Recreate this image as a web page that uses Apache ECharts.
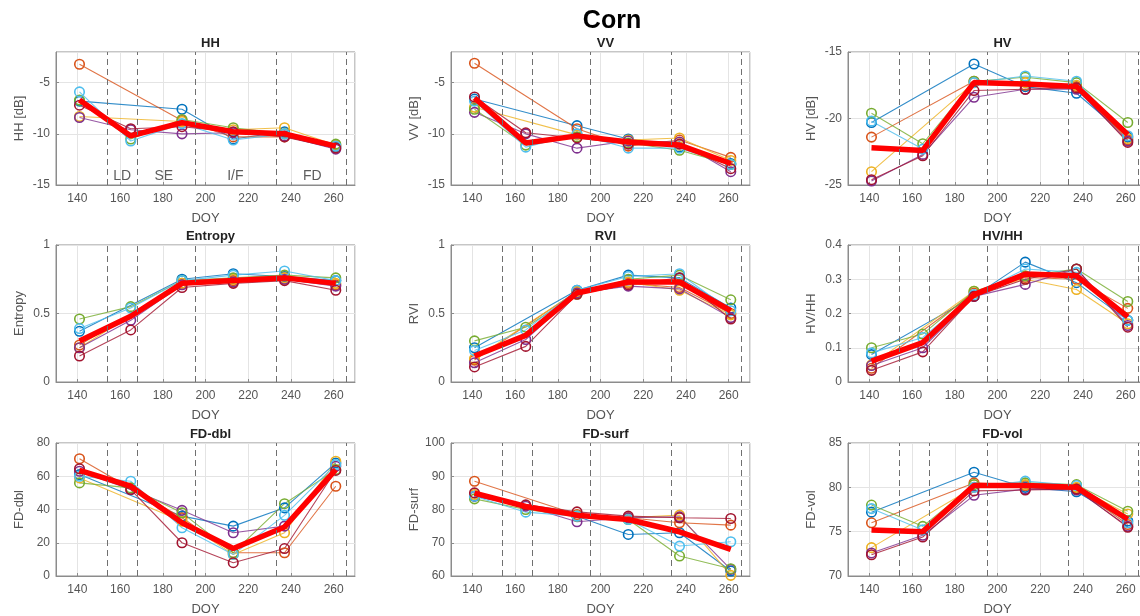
<!DOCTYPE html>
<html><head><meta charset="utf-8">
<script src="https://cdn.jsdelivr.net/npm/echarts@6/dist/echarts.min.js"></script>
<style>html,body{margin:0;padding:0;background:#fff}#c{width:1140px;height:616px}</style>
</head><body><div id="c"></div>
<script>
// ---- data ----
const doy = [141, 165, 189, 213, 237, 261];
const seriesColors = ['#0072BD', '#D95319', '#EDB120', '#7E2F8E', '#77AC30', '#4DBEEE', '#A2142F'];
const meanColor = '#FF0000';
const phaseLines = [154, 168, 195, 233, 266];
const phaseNames = ['LD', 'SE', 'I/F', 'FD'];
const phaseNameDoy = [161, 180.5, 214, 250];
const phaseNameValue = -14.1;

const mainTitle = 'Corn';
const panelTitles = ['HH', 'VV', 'HV', 'Entropy', 'RVI', 'HV/HH', 'FD-dbl', 'FD-surf', 'FD-vol'];
const yNames = ['HH [dB]', 'VV [dB]', 'HV [dB]', 'Entropy', 'RVI', 'HV/HH', 'FD-dbl', 'FD-surf', 'FD-vol'];
const xName = 'DOY';
const yMin = [-15, -15, -25, 0, 0, 0, 0, 60, 70];
const yMax = [-2, -2, -15, 1, 1, 0.4, 80, 100, 85];
const yStep = [5, 5, 5, 0.5, 0.5, 0.1, 20, 10, 5];

// rows: blue, orange, yellow, purple, green, light blue, dark red (null = no acquisition)
const HH = [
  [-6.8, null, -7.6, -10.5, -9.8, -11.3],
  [-3.2, null, -8.7, -10.3, -10.3, -11.2],
  [-8.3, null, -8.8, -9.6, -9.4, -11.1],
  [-8.4, -9.6, -10.0, -9.9, -10.2, -11.5],
  [-6.7, -10.5, -8.6, -9.4, -10.0, -11.0],
  [-5.9, -10.7, -9.0, -10.6, -10.0, -11.2],
  [-7.2, -9.5, -9.3, -9.8, -10.3, -11.4]
];
const HH_mean = [-6.7, -10.2, -8.9, -9.8, -10.0, -11.2];

const VV = [
  [-6.6, null, -9.2, -10.5, -11.3, -12.9],
  [-3.1, null, -9.5, -11.2, -10.6, -12.3],
  [-7.4, null, -10.1, -10.6, -10.4, -12.6],
  [-7.9, -10.0, -11.4, -10.7, -10.8, -13.7],
  [-7.6, -11.1, -10.3, -10.9, -11.6, -13.0],
  [-6.8, -11.3, -10.0, -11.4, -11.4, -13.0],
  [-6.4, -9.9, -10.4, -11.0, -11.0, -13.4]
];
const VV_mean = [-6.5, -10.9, -10.2, -10.8, -11.1, -12.9];

const HV = [
  [-20.3, null, -15.9, -17.6, -18.1, -21.4],
  [-21.4, null, -17.2, -17.5, -17.6, -21.6],
  [-24.0, null, -17.3, -17.3, -17.5, -21.5],
  [-24.7, -22.7, -18.4, -17.8, -17.8, -21.7],
  [-19.6, -21.9, -17.2, -16.9, -17.3, -20.3],
  [-20.2, -22.3, -17.3, -16.8, -17.2, -21.3],
  [-24.6, -22.8, -17.9, -17.8, -17.7, -21.8]
];
const HV_mean = [-22.2, -22.4, -17.3, -17.4, -17.6, -21.2];

const ENT = [
  [0.37, null, 0.75, 0.79, 0.77, 0.74],
  [0.27, null, 0.72, 0.74, 0.76, 0.71],
  [0.25, null, 0.72, 0.75, 0.76, 0.72],
  [0.25, 0.45, 0.71, 0.73, 0.75, 0.70],
  [0.46, 0.55, 0.74, 0.76, 0.78, 0.76],
  [0.39, 0.54, 0.74, 0.78, 0.81, 0.74],
  [0.19, 0.38, 0.69, 0.72, 0.74, 0.67]
];
const ENT_mean = [0.30, 0.48, 0.72, 0.74, 0.76, 0.72];

const RVI = [
  [0.25, null, 0.67, 0.78, 0.76, 0.54],
  [0.16, null, 0.66, 0.72, 0.69, 0.50],
  [0.17, null, 0.66, 0.73, 0.67, 0.49],
  [0.14, 0.31, 0.65, 0.70, 0.68, 0.47],
  [0.30, 0.40, 0.64, 0.75, 0.78, 0.60],
  [0.23, 0.38, 0.67, 0.77, 0.79, 0.52],
  [0.11, 0.26, 0.64, 0.71, 0.76, 0.46]
];
const RVI_mean = [0.19, 0.34, 0.65, 0.73, 0.73, 0.52];

const HVHH = [
  [0.080, null, 0.250, 0.350, 0.290, 0.180],
  [0.040, null, 0.260, 0.305, 0.300, 0.215],
  [0.050, null, 0.265, 0.300, 0.270, 0.170],
  [0.048, 0.100, 0.250, 0.285, 0.330, 0.165],
  [0.100, 0.140, 0.265, 0.310, 0.330, 0.235],
  [0.085, 0.130, 0.255, 0.330, 0.320, 0.180],
  [0.034, 0.088, 0.250, 0.300, 0.330, 0.160]
];
const HVHH_mean = [0.061, 0.115, 0.255, 0.315, 0.310, 0.190];

const FDDBL = [
  [61, null, 36, 30, 41, 68],
  [70.5, null, 35, 14, 14, 54],
  [59, null, 33, 13, 26, 69],
  [63, 52, 39.5, 26, 30, 66],
  [56, 53, 38, 14, 43.5, 64],
  [60, 57, 29, 13, 36.5, 67],
  [64.5, 52, 20, 8, 16.5, 63.5]
];
const FDDBL_mean = [63.5, 54, 32, 16.5, 29.5, 64];

const FDSURF = [
  [84, null, 78, 72.5, 73, 61.5],
  [88.5, null, 78.5, 77.5, 76, 75.3],
  [84.5, null, 78, 77.5, 78.3, 60.2],
  [84, 81, 76.3, 77.5, 77.8, 62],
  [83.2, 80, 78, 77, 66, 62.2],
  [84, 79.2, 78, 77, 69, 70.3],
  [85, 81.4, 79.3, 78, 77.5, 77.3]
];
const FDSURF_mean = [84.9, 80.9, 78.3, 77, 73.3, 68];

const FDVOL = [
  [77.2, null, 81.7, 80.0, 79.5, 76.2],
  [76.0, null, 80.5, 80.2, 79.9, 75.8],
  [73.2, null, 80.0, 80.3, 80.0, 77.0],
  [72.6, 74.6, 79.1, 79.8, 79.7, 75.6],
  [78.0, 75.6, 80.3, 80.5, 80.3, 77.3],
  [77.6, 75.2, 80.0, 80.7, 80.2, 76.0],
  [72.4, 74.4, 79.6, 79.7, 79.8, 75.5]
];
const FDVOL_mean = [75.2, 75.0, 80.2, 80.2, 80.0, 76.4];

const panelRows = [HH, VV, HV, ENT, RVI, HVHH, FDDBL, FDSURF, FDVOL];
const panelMeans = [HH_mean, VV_mean, HV_mean, ENT_mean, RVI_mean, HVHH_mean, FDDBL_mean, FDSURF_mean, FDVOL_mean];

// ---- layout ----
const colLeft = [56, 451, 848];
const colWidth = 299;
const rowTop = [52, 245, 443];
const rowHeight = [133, 137, 133];
const FONT = '"Liberation Sans", Arial, Helvetica, sans-serif';

const grids = [], xAxes = [], yAxes = [], series = [];
const titles = [{
  text: mainTitle, left: 607, top: 4, textAlign: 'center',
  textStyle: { fontFamily: FONT, fontSize: 25, fontWeight: 'bold', color: '#000' }
}];

for (let i = 0; i < 9; i++) {
  const r = Math.floor(i / 3), c = i % 3;
  grids.push({
    left: colLeft[c], top: rowTop[r], width: colWidth, height: rowHeight[r],
    show: true, borderColor: '#8c8c8c', borderWidth: 1, backgroundColor: '#fff',
    containLabel: false, outerBoundsMode: 'none'
  });
  titles.push({
    text: panelTitles[i], left: colLeft[c] + colWidth / 2, top: rowTop[r] - 20, textAlign: 'center',
    textStyle: { fontFamily: FONT, fontSize: 13, fontWeight: 'bold', color: '#222' }
  });
  xAxes.push({
    type: 'value', gridIndex: i, min: 130, max: 270, splitNumber: 7,
    name: xName, nameLocation: 'middle', nameGap: 27,
    nameTextStyle: { fontFamily: FONT, fontSize: 13, color: '#555' },
    axisLine: { show: true, lineStyle: { color: '#8c8c8c' } },
    axisTick: { show: true, inside: true, length: 3, lineStyle: { color: '#8c8c8c' } },
    axisLabel: { fontFamily: FONT, fontSize: 12, color: '#555', margin: 8, showMinLabel: false, showMaxLabel: false },
    splitLine: { show: true, lineStyle: { color: '#e4e4e4', width: 1 } }
  });
  yAxes.push({
    type: 'value', gridIndex: i, min: yMin[i], max: yMax[i], interval: yStep[i],
    name: yNames[i], nameLocation: 'middle', nameGap: 30,
    nameTextStyle: { fontFamily: FONT, fontSize: 13, color: '#555' },
    axisLine: { show: true, lineStyle: { color: '#8c8c8c' } },
    axisTick: { show: true, inside: true, length: 3, lineStyle: { color: '#8c8c8c' } },
    axisLabel: { fontFamily: FONT, fontSize: 12, color: '#555', margin: 6, showMaxLabel: (yMax[i] / yStep[i]) % 1 === 0 ? true : false },
    splitLine: { show: true, lineStyle: { color: '#e4e4e4', width: 1 } }
  });
  const rows = panelRows[i];
  rows.forEach((row, k) => {
    const col = seriesColors[k];
    const s = {
      type: 'line', xAxisIndex: i, yAxisIndex: i,
      data: doy.map((d, j) => [d, row[j]]).filter(p => p[1] !== null),
      symbol: 'circle', symbolSize: 9.5, showSymbol: true,
      lineStyle: { color: col, width: 1.1, opacity: 0.8 },
      itemStyle: { color: 'rgba(255,255,255,0)', borderColor: col, borderWidth: 1.6 },
      z: 3, animation: false, silent: true
    };
    if (k === 0) {
      s.markLine = {
        silent: true, symbol: 'none', label: { show: false }, animation: false,
        lineStyle: { type: [6, 4], color: '#707070', width: 1 },
        data: phaseLines.map(x => ({ xAxis: x }))
      };
    }
    series.push(s);
  });
  series.push({
    type: 'line', xAxisIndex: i, yAxisIndex: i,
    data: doy.map((d, j) => [d, panelMeans[i][j]]),
    symbol: 'none', lineStyle: { color: meanColor, width: 5.5 },
    z: 4, animation: false, silent: true
  });
  if (i === 0) {
    series.push({
      type: 'scatter', xAxisIndex: 0, yAxisIndex: 0, symbolSize: 1,
      itemStyle: { color: 'rgba(0,0,0,0)' },
      label: { show: true, position: 'inside', formatter: '{b}', fontFamily: FONT, fontSize: 14, color: '#333' },
      data: phaseNames.map((n, k) => ({ name: n, value: [phaseNameDoy[k], phaseNameValue] })),
      z: 5, animation: false, silent: true
    });
  }
}

const chart = echarts.init(document.getElementById('c'), null, { renderer: 'canvas' });
chart.setOption({
  animation: false,
  backgroundColor: '#fff',
  title: titles,
  grid: grids,
  xAxis: xAxes,
  yAxis: yAxes,
  series: series
});
</script>
</body></html>
